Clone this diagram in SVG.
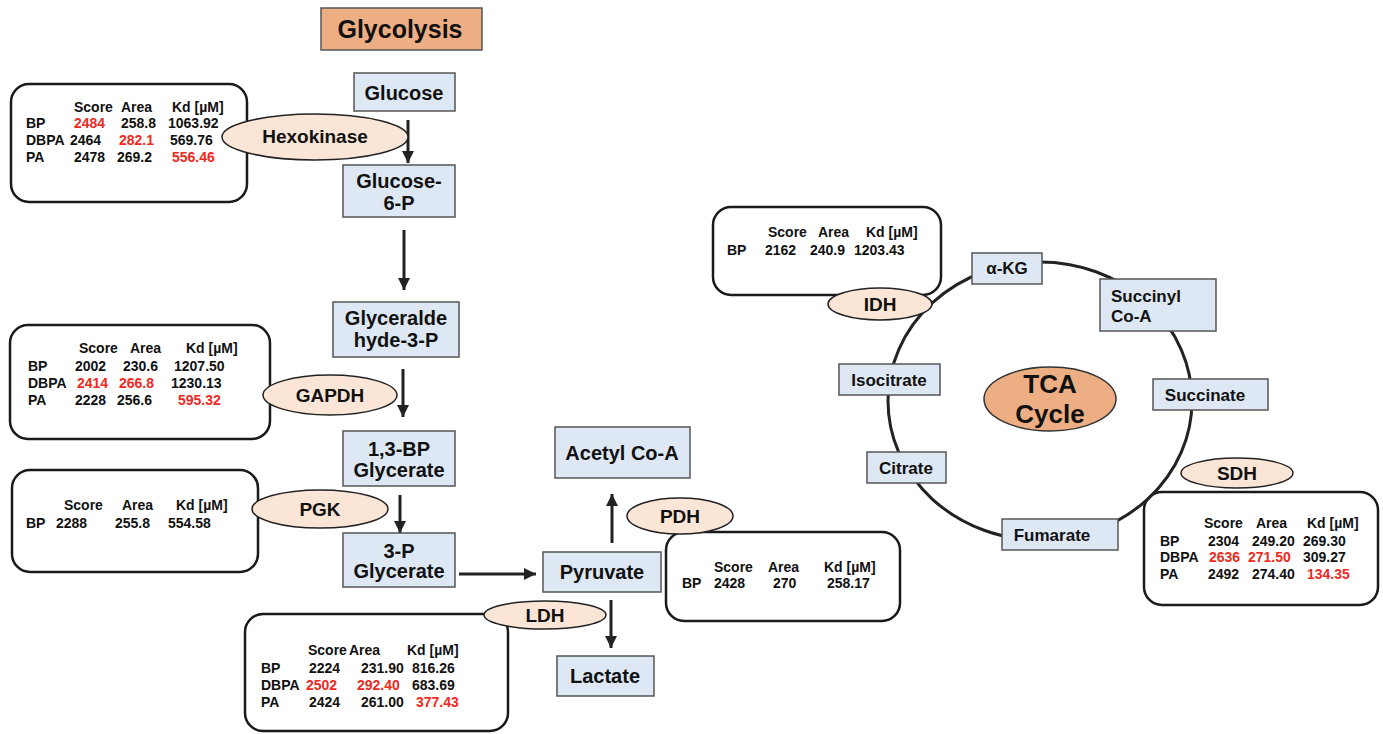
<svg xmlns="http://www.w3.org/2000/svg" width="1383" height="734" viewBox="0 0 1383 734">
<style>
text{font-family:"Liberation Sans",Arial,sans-serif;font-weight:bold;fill:#111}
.nb{fill:#dee8f4;stroke:#555;stroke-width:1.5}
.en{fill:#fbe5d6;stroke:#222;stroke-width:1.5}
.tb{fill:#fff;stroke:#1a1a1a;stroke-width:2.5}
.or{fill:#eeae84;stroke:#555;stroke-width:1.5}
.nt{font-size:20px;text-anchor:middle}
.st{font-size:17px;text-anchor:middle}
.et{font-size:19px;text-anchor:middle}
.tt{font-size:14px}
.r{fill:#ee2a22}
.ar{stroke:#222;stroke-width:3;fill:none;marker-end:url(#ah)}
</style>
<defs>
<marker id="ah" viewBox="0 0 10 10" refX="10" refY="5" markerWidth="12" markerHeight="12" markerUnits="userSpaceOnUse" orient="auto">
<path d="M0,0 L10,5 L0,10 z" fill="#222"/>
</marker>
</defs>

<g id="title">
<rect class="or" x="321" y="8" width="161" height="42"/>
<text x="400" y="38" style="font-size:25px;text-anchor:middle">Glycolysis</text>
</g>

<g id="table-hexokinase">
<rect class="tb" x="11" y="84" width="236" height="118" rx="18"/>
<text class="tt" x="74" y="112">Score</text><text class="tt" x="121" y="112">Area</text><text class="tt" x="172" y="112">Kd [µM]</text>
<text class="tt" x="26" y="128">BP</text><text class="tt r" x="74" y="128">2484</text><text class="tt" x="121" y="128">258.8</text><text class="tt" x="168" y="128">1063.92</text>
<text class="tt" x="26" y="145">DBPA</text><text class="tt" x="70" y="145">2464</text><text class="tt r" x="119" y="145">282.1</text><text class="tt" x="170" y="145">569.76</text>
<text class="tt" x="26" y="162">PA</text><text class="tt" x="74" y="162">2478</text><text class="tt" x="117" y="162">269.2</text><text class="tt r" x="172" y="162">556.46</text>
</g>

<g id="table-gapdh">
<rect class="tb" x="10" y="325" width="260" height="114" rx="18"/>
<text class="tt" x="79" y="353">Score</text><text class="tt" x="130" y="353">Area</text><text class="tt" x="186" y="353">Kd [µM]</text>
<text class="tt" x="28" y="371">BP</text><text class="tt" x="75" y="371">2002</text><text class="tt" x="123" y="371">230.6</text><text class="tt" x="174" y="371">1207.50</text>
<text class="tt" x="28" y="388">DBPA</text><text class="tt r" x="77" y="388">2414</text><text class="tt r" x="119" y="388">266.8</text><text class="tt" x="171" y="388">1230.13</text>
<text class="tt" x="28" y="405">PA</text><text class="tt" x="75" y="405">2228</text><text class="tt" x="117" y="405">256.6</text><text class="tt r" x="178" y="405">595.32</text>
</g>

<g id="table-pgk">
<rect class="tb" x="12" y="470" width="246" height="102" rx="18"/>
<text class="tt" x="64" y="510">Score</text><text class="tt" x="122" y="510">Area</text><text class="tt" x="176" y="510">Kd [µM]</text>
<text class="tt" x="26" y="528">BP</text><text class="tt" x="56" y="528">2288</text><text class="tt" x="115" y="528">255.8</text><text class="tt" x="168" y="528">554.58</text>
</g>

<g id="table-ldh">
<rect class="tb" x="245" y="614" width="263" height="117" rx="18"/>
<text class="tt" x="308" y="655">Score</text><text class="tt" x="349" y="655">Area</text><text class="tt" x="407" y="655">Kd [µM]</text>
<text class="tt" x="261" y="673">BP</text><text class="tt" x="309" y="673">2224</text><text class="tt" x="361" y="673">231.90</text><text class="tt" x="412" y="673">816.26</text>
<text class="tt" x="261" y="690">DBPA</text><text class="tt r" x="306" y="690">2502</text><text class="tt r" x="357" y="690">292.40</text><text class="tt" x="412" y="690">683.69</text>
<text class="tt" x="261" y="707">PA</text><text class="tt" x="309" y="707">2424</text><text class="tt" x="361" y="707">261.00</text><text class="tt r" x="416" y="707">377.43</text>
</g>

<g id="table-pdh">
<rect class="tb" x="666" y="532" width="234" height="89" rx="18"/>
<text class="tt" x="714" y="572">Score</text><text class="tt" x="768" y="572">Area</text><text class="tt" x="824" y="572">Kd [µM]</text>
<text class="tt" x="682" y="588">BP</text><text class="tt" x="714" y="588">2428</text><text class="tt" x="773" y="588">270</text><text class="tt" x="827" y="588">258.17</text>
</g>

<g id="table-idh">
<rect class="tb" x="713" y="207" width="228" height="88" rx="18"/>
<text class="tt" x="768" y="237">Score</text><text class="tt" x="818" y="237">Area</text><text class="tt" x="866" y="237">Kd [µM]</text>
<text class="tt" x="727" y="255">BP</text><text class="tt" x="765" y="255">2162</text><text class="tt" x="810" y="255">240.9</text><text class="tt" x="854" y="255">1203.43</text>
</g>

<g id="table-sdh">
<rect class="tb" x="1144" y="492" width="234" height="113" rx="18"/>
<text class="tt" x="1204" y="528">Score</text><text class="tt" x="1256" y="528">Area</text><text class="tt" x="1307" y="528">Kd [µM]</text>
<text class="tt" x="1160" y="546">BP</text><text class="tt" x="1208" y="546">2304</text><text class="tt" x="1252" y="546">249.20</text><text class="tt" x="1303" y="546">269.30</text>
<text class="tt" x="1160" y="562">DBPA</text><text class="tt r" x="1209" y="562">2636</text><text class="tt r" x="1248" y="562">271.50</text><text class="tt" x="1303" y="562">309.27</text>
<text class="tt" x="1160" y="579">PA</text><text class="tt" x="1208" y="579">2492</text><text class="tt" x="1252" y="579">274.40</text><text class="tt r" x="1307" y="579">134.35</text>
</g>

<g id="connectors">
<ellipse cx="1040" cy="401" rx="152" ry="139" fill="none" stroke="#222" stroke-width="3"/>
<line class="ar" x1="408" y1="120" x2="408" y2="163"/>
<line class="ar" x1="404" y1="230" x2="404" y2="290"/>
<line class="ar" x1="403" y1="369" x2="403" y2="417"/>
<line class="ar" x1="400" y1="495" x2="400" y2="533"/>
<line class="ar" x1="459" y1="574" x2="536" y2="574"/>
<line class="ar" x1="612" y1="543" x2="612" y2="494"/>
<line class="ar" x1="611" y1="600" x2="611" y2="648"/>
</g>

<g id="glucose"><rect class="nb" x="354" y="73" width="101" height="38"/><text class="nt" x="404" y="100">Glucose</text></g>
<g id="glucose-6-p"><rect class="nb" x="343" y="165" width="112" height="52"/><text class="nt" x="399" y="188">Glucose-</text><text class="nt" x="399" y="210">6-P</text></g>
<g id="glyceraldehyde-3-p"><rect class="nb" x="333" y="302" width="126" height="55"/><text class="nt" x="396" y="325">Glyceralde</text><text class="nt" x="396" y="347">hyde-3-P</text></g>
<g id="bp-glycerate"><rect class="nb" x="343" y="431" width="112" height="55"/><text class="nt" x="399" y="456">1,3-BP</text><text class="nt" x="399" y="477">Glycerate</text></g>
<g id="p-glycerate"><rect class="nb" x="343" y="533" width="112" height="54"/><text class="nt" x="399" y="558">3-P</text><text class="nt" x="399" y="578">Glycerate</text></g>
<g id="pyruvate"><rect class="nb" x="543" y="552" width="118" height="40"/><text class="nt" x="602" y="579">Pyruvate</text></g>
<g id="acetyl-coa"><rect class="nb" x="555" y="427" width="135" height="51"/><text class="nt" x="622" y="460">Acetyl Co-A</text></g>
<g id="lactate"><rect class="nb" x="557" y="656" width="97" height="40"/><text class="nt" x="605" y="683">Lactate</text></g>

<g id="akg"><rect class="nb" x="972" y="253" width="70" height="31"/><text class="st" x="1007" y="274">α-KG</text></g>
<g id="succinyl-coa"><rect class="nb" x="1100" y="279" width="116" height="52"/><text class="st" x="1111" y="302" style="text-anchor:start">Succinyl</text><text class="st" x="1111" y="322" style="text-anchor:start">Co-A</text></g>
<g id="isocitrate"><rect class="nb" x="839" y="364" width="101" height="31"/><text class="st" x="889" y="386">Isocitrate</text></g>
<g id="succinate"><rect class="nb" x="1153" y="379" width="115" height="31"/><text class="st" x="1205" y="401">Succinate</text></g>
<g id="citrate"><rect class="nb" x="867" y="452" width="79" height="31"/><text class="st" x="906" y="474">Citrate</text></g>
<g id="fumarate"><rect class="nb" x="1002" y="519" width="116" height="31"/><text class="st" x="1052" y="541">Fumarate</text></g>
<g id="tca-cycle"><ellipse cx="1050" cy="399" rx="66" ry="32" fill="#eeae84" stroke="#333" stroke-width="1.5"/><text x="1050" y="393" style="font-size:26px;text-anchor:middle">TCA</text><text x="1050" y="423" style="font-size:26px;text-anchor:middle">Cycle</text></g>

<g id="hexokinase"><ellipse class="en" cx="315" cy="137" rx="93" ry="23"/><text class="et" x="315" y="143">Hexokinase</text></g>
<g id="gapdh"><ellipse class="en" cx="330" cy="395" rx="67" ry="20"/><text class="et" x="330" y="402">GAPDH</text></g>
<g id="pgk"><ellipse class="en" cx="320" cy="509" rx="68" ry="19"/><text class="et" x="320" y="516">PGK</text></g>
<g id="ldh"><ellipse class="en" cx="545" cy="615" rx="61" ry="14"/><text class="et" x="545" y="622">LDH</text></g>
<g id="pdh"><ellipse class="en" cx="680" cy="516" rx="53" ry="18"/><text class="et" x="680" y="523">PDH</text></g>
<g id="idh"><ellipse class="en" cx="880" cy="304" rx="52" ry="16"/><text class="et" x="880" y="311">IDH</text></g>
<g id="sdh"><ellipse class="en" cx="1237" cy="473" rx="56" ry="15"/><text class="et" x="1237" y="480">SDH</text></g>
</svg>
